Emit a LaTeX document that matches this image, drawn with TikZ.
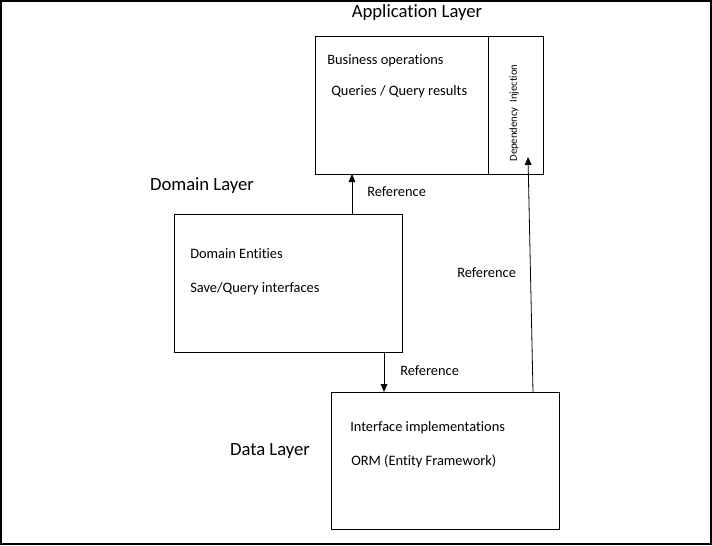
\documentclass[tikz,border=0pt]{standalone}
\usepackage{fontspec}
\setmainfont[RawFeature={-liga;-clig;-dlig}]{Carlito}
\usetikzlibrary{arrows.meta}
\begin{document}
\begin{tikzpicture}[x=0.75pt,y=-0.75pt,
  box/.style={draw,line width=0.9pt,inner sep=0pt},
  title/.style={font=\fontsize{14}{16}\selectfont,inner sep=0pt},
  txt/.style={font=\fontsize{10.8}{12}\selectfont,inner sep=0pt,anchor=west},
  conn/.style={draw,line width=0.6pt,-{Triangle[length=6pt,width=5pt]}}]
\useasboundingbox (0,0) rectangle (712,545);
\draw[line width=1pt] (1,1) rectangle (711,544);
% boxes
\node[box,minimum width=228*0.75pt,minimum height=138*0.75pt,anchor=north west] (app) at (315,36) {};
\draw[line width=0.7pt] (488.5,36) -- (488.5,174);
\node[box,minimum width=228*0.75pt,minimum height=138*0.75pt,anchor=north west] (dom) at (174,214) {};
\node[box,minimum width=228*0.75pt,minimum height=137*0.75pt,anchor=north west] (dat) at (331,392) {};
% titles
\node[title] (tapp) at (417,13) {Application Layer};
\node[title] (tdom) at (202,186) {Domain Layer};
\node[title] (tdat) at (270,451) {Data Layer};
% texts
\node[txt] (t1) at (327,61) {Business operations};
\node[txt] (t2) at (331,92) {Queries / Query results};
\node[font=\fontsize{8}{10}\selectfont,inner sep=0pt,rotate=90] (t3) at (514,113) {Dependency \ Injection};
\node[txt] (t4) at (190,254) {Domain Entities};
\node[txt] (t5) at (190,289) {Save/Query interfaces};
\node[txt] (t6) at (350,428) {Interface implementations};
\node[txt] (t7) at (351,461) {ORM (Entity Framework)};
% connectors
\coordinate (a1s) at (352,214);
\coordinate (a1e) at (352,174);
\draw[conn] (a1s) -- (a1e);
\coordinate (a2s) at (384,352);
\coordinate (a2e) at (384,392);
\draw[conn] (a2s) -- (a2e);
\coordinate (a3s) at (533,392);
\coordinate (a3e) at (528,157);
\draw[conn] (a3s) -- (a3e);
\node[txt] (r1) at (367,192) {Reference};
\node[txt] (r2) at (457,273) {Reference};
\node[txt] (r3) at (400,371) {Reference};
\end{tikzpicture}
\end{document}
